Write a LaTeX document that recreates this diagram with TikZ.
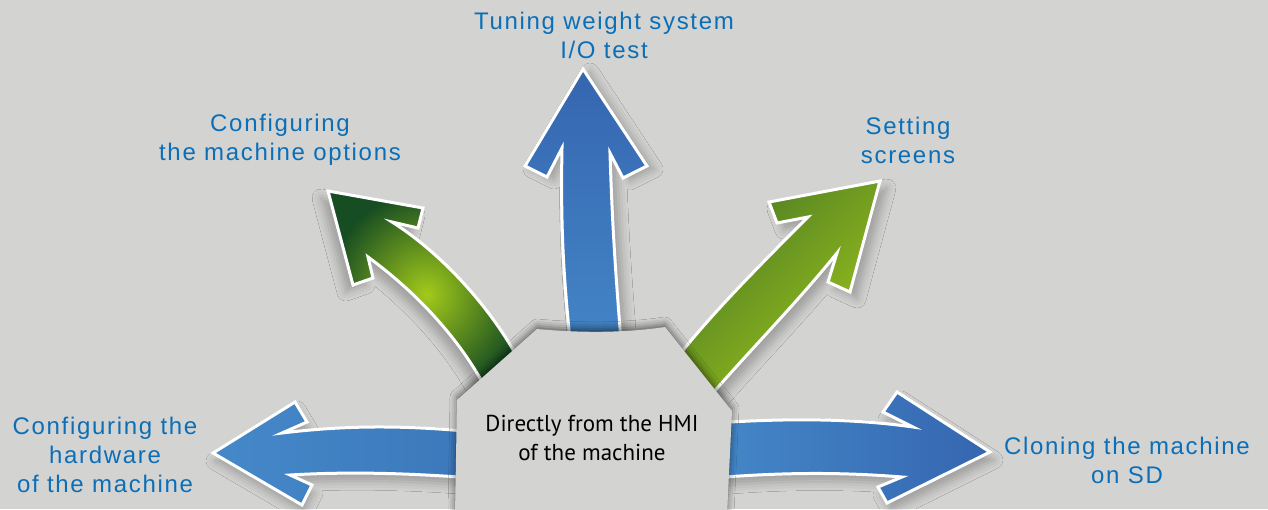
\documentclass[tikz,border=0pt]{standalone}
\usepackage{fontspec}
\setmainfont{Liberation Sans}
\newfontfamily\labelfont[LetterSpace=7]{Liberation Sans}
\newfontfamily\hmifont{PT Sans}
\usetikzlibrary{shadows.blur}

\definecolor{paper}{HTML}{D3D3D2}
\definecolor{label_blue}{HTML}{0B6FB8}
\definecolor{blue_dark}{HTML}{3566B0}
\definecolor{blue_mid}{HTML}{3B77BA}
\definecolor{blue_light}{HTML}{4589C9}
\definecolor{green_bright}{HTML}{A2CA1A}
\definecolor{green_deep}{HTML}{174D22}
\definecolor{green_lime}{HTML}{9DC41C}
\definecolor{green_moss}{HTML}{4A7A24}

\tikzset{
  band/.style={draw=white, line width=3pt, line join=miter},
  cast_shadow/.style 2 args={blur shadow={shadow xshift=#1, shadow yshift=#2,
      shadow blur radius=9pt, shadow opacity=25}},
  label_text/.style={text=label_blue, align=center, inner sep=0pt,
      font=\labelfont\fontsize{24}{29}\selectfont},
  hmi_label/.style={text=black, align=center, inner sep=0pt,
      font=\hmifont\fontsize{23}{29}\selectfont},
}

\begin{document}
\begin{tikzpicture}[x=1pt,y=-1pt]
        \fill[paper] (0,0) rectangle (1268,509);
        \useasboundingbox (0,0) rectangle (1268,509);
        \coordinate (tuning_tip)   at (583,69);
        \coordinate (options_tip)  at (328,191);
        \coordinate (setting_tip)  at (880,181);
        \coordinate (hardware_tip) at (213,453);
        \coordinate (cloning_tip)  at (990,452);
        % arrows, drawn first so the hmi box covers their ends
        \shadedraw[band, top color=blue_dark, bottom color=blue_light, cast_shadow={7pt}{-3pt}]
            (tuning_tip) -- (647,166) -- (623,178) -- (610,153)
            .. controls (613,250) and (618,300) .. (624,380) -- (574,380)
            .. controls (566,300) and (560,250) .. (562,148) -- (547,177) -- (525,166) -- cycle;
        \shadedraw[band, inner color=green_bright, outer color=green_deep, cast_shadow={-7pt}{-7pt}]
            (options_tip) -- (423,208) -- (418,228) -- (392,222)
            .. controls (440,252) and (495,310) .. (525,372) -- (490,397)
            .. controls (465,345) and (420,295) .. (368,257) -- (373,278) -- (353,285) -- cycle;
        \shadedraw[band, left color=green_moss, right color=green_lime, shading angle=45, cast_shadow={7pt}{-7pt}]
            (setting_tip) -- (850,292) -- (828,282) -- (837,253)
            .. controls (795,305) and (750,350) .. (705,402) -- (670,367)
            .. controls (705,320) and (760,265) .. (808,217) -- (777,223) -- (769,202) -- cycle;
        \shadedraw[band, left color=blue_light, right color=blue_mid, cast_shadow={2pt}{-8pt}]
            (hardware_tip) -- (295,402) -- (307,422) -- (282,433)
            .. controls (340,426) and (400,424) .. (485,433) -- (485,479)
            .. controls (400,472) and (340,472) .. (290,475) -- (312,485) -- (302,505) -- cycle;
        \shadedraw[band, left color=blue_light, right color=blue_dark, cast_shadow={4pt}{-8pt}]
            (700,424) .. controls (780,418) and (850,418) .. (913,427) -- (883,412) -- (897,392)
            -- (cloning_tip) -- (887,503) -- (878,487) -- (902,477)
            .. controls (840,472) and (780,472) .. (700,479) -- cycle;
        % hmi box
        \fill[paper, blur shadow={shadow xshift=0pt, shadow yshift=3pt, shadow blur radius=7pt, shadow opacity=55}]
            (537,329) .. controls (580,333) and (625,333) .. (665,327) -- (732,411)
            -- (727,515) -- (455,515) -- (457,400) -- cycle;
        \node (hmi_text) at (592,438) [hmi_label] {Directly from the HMI\\of the machine};
        % labels
        \node (tuning_label)   at (604,35)   [label_text] {Tuning weight system\\I/O test};
        \node (options_label)  at (280,140)  [label_text] {Configuring\\the machine options};
        \node (setting_label)  at (908,140)  [label_text] {Setting\\screens};
        \node (hardware_label) at (105,455)  [label_text] {Configuring the\\hardware\\of the machine};
        \node (cloning_label)  at (1127,460) [label_text] {Cloning the machine\\on SD};
    \end{tikzpicture}
\end{document}
